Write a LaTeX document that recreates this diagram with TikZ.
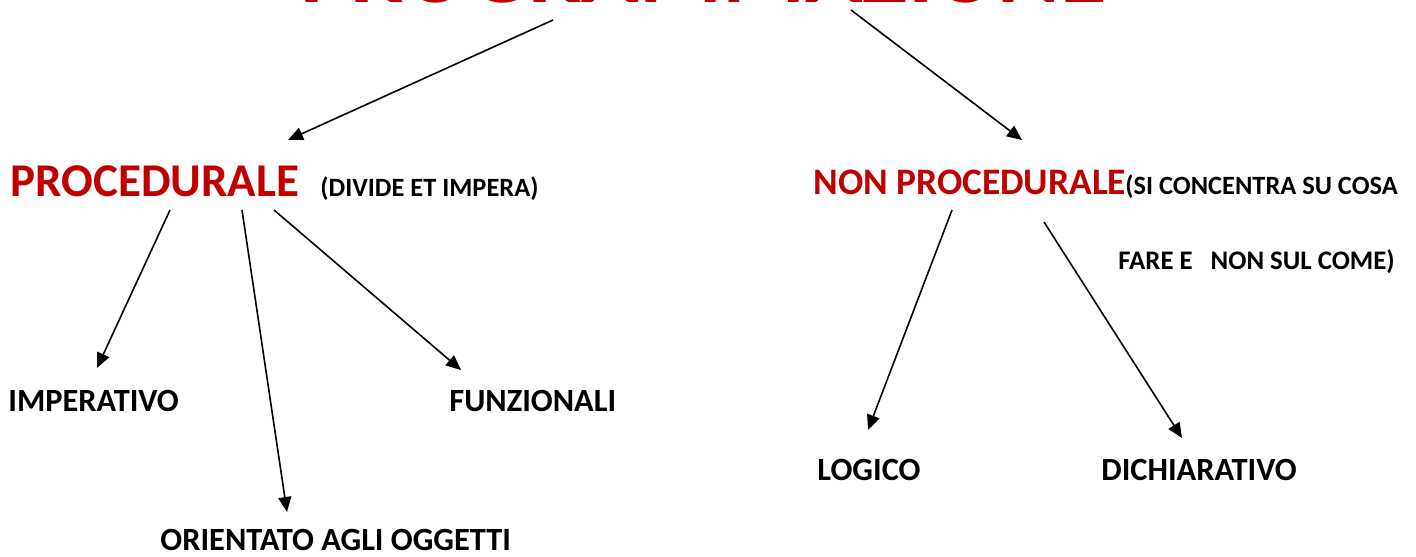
\documentclass[tikz,border=0pt]{standalone}
\usepackage{fontspec}
\setmainfont{Carlito}
\usetikzlibrary{arrows.meta}
\definecolor{titlered}{RGB}{192,0,0}
\tikzset{
  conn/.style={line width=0.8pt,-{Triangle[length=7.5pt,width=6.5pt]}},
  big/.style={font=\bfseries\fontsize{23.5}{28}\selectfont,text=titlered,inner sep=0pt,anchor=base west},
  note/.style={font=\bfseries\fontsize{13.2}{16}\selectfont,inner sep=0pt,anchor=base west},
  leaf/.style={font=\bfseries\fontsize{16.2}{19}\selectfont,inner sep=0pt,anchor=base west},
}
\begin{document}
\begin{tikzpicture}[x=0.5pt,y=-0.5pt]
\useasboundingbox (0,0) rectangle (1416,556);
\clip (0,0) rectangle (1416,556);
\node[font=\bfseries\fontsize{47.5}{56}\selectfont,text=titlered,inner sep=0pt,anchor=base west] (title) at (300,3) {PROGRAMMAZIONE};
\node[big] (proc) at (10,196) {PROCEDURALE};
\node[note] (divide) at (320,196) {(DIVIDE ET IMPERA)};
\node[big,font=\bfseries\fontsize{18.7}{22}\selectfont] (nonproc) at (813,194) {NON PROCEDURALE};
\node[note] (cosa1) at (1125,194) {(SI CONCENTRA SU COSA};
\node[note,font=\bfseries\fontsize{13.4}{16}\selectfont] (cosa2) at (1118,269) {FARE E\hspace{9pt}NON SUL COME)};
\node[leaf] (imp) at (8,411) {IMPERATIVO};
\node[leaf] (funz) at (449,411) {FUNZIONALI};
\node[leaf] (oo) at (160,550) {ORIENTATO AGLI OGGETTI};
\node[leaf] (log) at (817,480) {LOGICO};
\node[leaf] (dich) at (1101,480) {DICHIARATIVO};
\coordinate (t1) at (553,20);
\coordinate (t2) at (851,10);
\coordinate (p1) at (170,210);
\coordinate (p2) at (242,210);
\coordinate (p3) at (274,210);
\coordinate (n1) at (952,210);
\coordinate (n2) at (1044,222);
\coordinate (e0) at (288,140);
\coordinate (e1) at (1022,140);
\coordinate (e2) at (97,368);
\coordinate (e3) at (287,512);
\coordinate (e4) at (461,370);
\coordinate (e5) at (868,430);
\coordinate (e6) at (1182,438);
\draw[conn] (t1) -- (e0);
\draw[conn] (t2) -- (e1);
\draw[conn] (p1) -- (e2);
\draw[conn] (p2) -- (e3);
\draw[conn] (p3) -- (e4);
\draw[conn] (n1) -- (e5);
\draw[conn] (n2) -- (e6);
\end{tikzpicture}
\end{document}
